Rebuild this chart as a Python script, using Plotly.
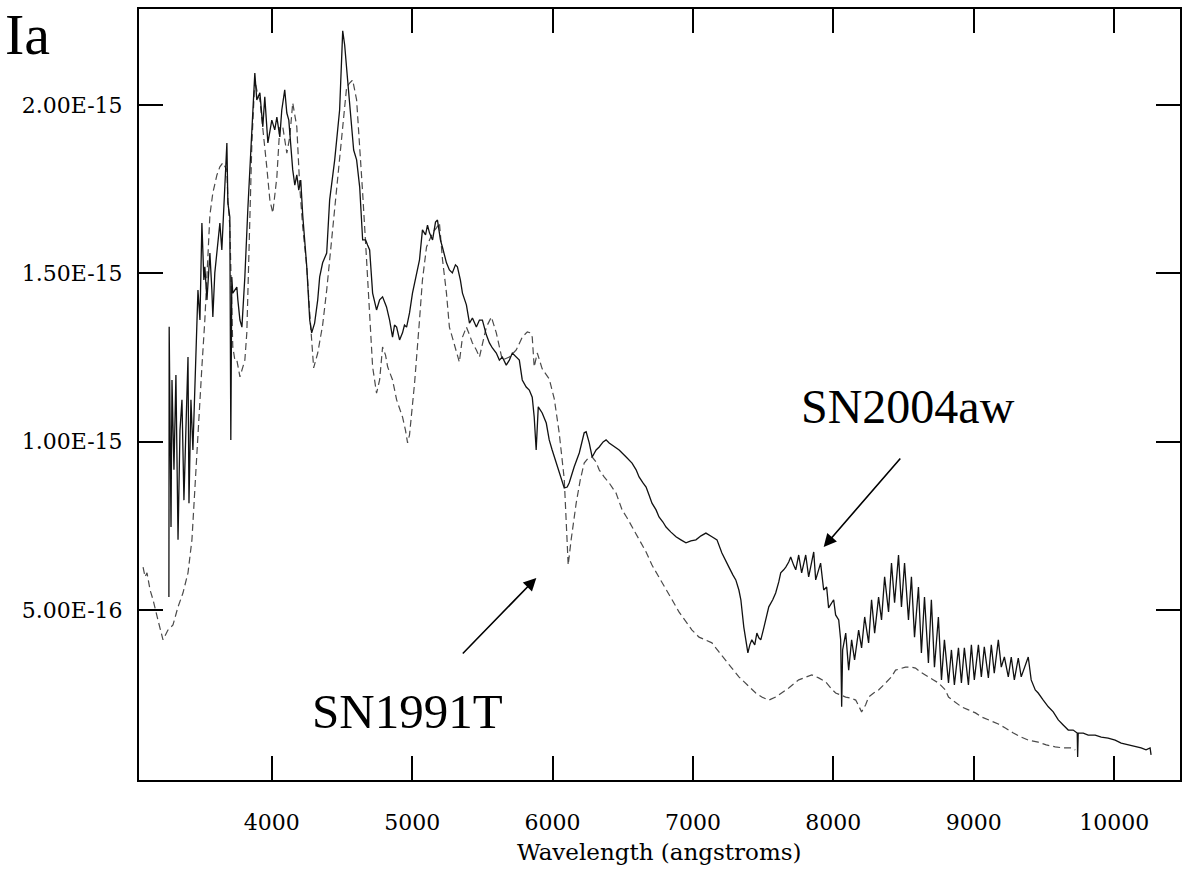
import numpy as np
import plotly.graph_objects as go

# SN2004aw spectrum: wavelength (angstroms) and flux (units of 1e-15)
sn2004aw_wave = [
    3267, 3269, 3282, 3289, 3303, 3317, 3332, 3346, 3360, 3374, 3388, 3403, 3410, 3424,
    3438, 3452, 3466, 3474, 3488, 3502, 3516, 3523, 3538, 3559, 3573, 3580, 3594, 3616,
    3630, 3644, 3665, 3680, 3687, 3701, 3708, 3715, 3722, 3751, 3758, 3773, 3787, 3808,
    3829, 3858, 3879, 3893, 3915, 3936, 3950, 3972, 4000, 4021, 4036, 4057, 4071, 4092,
    4107, 4121, 4135, 4149, 4164, 4178, 4192, 4206, 4220, 4235, 4249, 4270, 4284, 4305,
    4327, 4341, 4362, 4391, 4412, 4448, 4483, 4505, 4519, 4540, 4562, 4583, 4604, 4626,
    4647, 4668, 4682, 4697, 4718, 4746, 4768, 4789, 4817, 4839, 4860, 4874, 4889, 4910,
    4931, 4945, 4960, 4981, 5002, 5031, 5052, 5073, 5095, 5109, 5123, 5145, 5166, 5180,
    5201, 5215, 5244, 5265, 5286, 5308, 5322, 5343, 5358, 5386, 5408, 5429, 5457, 5479,
    5500, 5528, 5550, 5571, 5599, 5621, 5642, 5670, 5692, 5713, 5741, 5763, 5784, 5812,
    5834, 5855, 5869, 5883, 5898, 5926, 5955, 5976, 5997, 6026, 6061, 6083, 6104, 6118,
    6154, 6190, 6225, 6239, 6261, 6282, 6310, 6332, 6360, 6381, 6403, 6424, 6452, 6474,
    6524, 6566, 6595, 6616, 6644, 6666, 6687, 6708, 6737, 6758, 6786, 6808, 6843, 6879,
    6914, 6950, 6985, 7021, 7057, 7092, 7135, 7171, 7206, 7234, 7256, 7284, 7305, 7327,
    7341, 7362, 7391, 7405, 7419, 7440, 7455, 7469, 7483, 7504, 7518, 7540, 7568, 7589,
    7611, 7625, 7646, 7661, 7682, 7696, 7717, 7732, 7753, 7774, 7803, 7824, 7860, 7874,
    7909, 7931, 7952, 7966, 8002, 8016, 8038, 8052, 8059, 8066, 8088, 8109, 8130, 8151,
    8180, 8201, 8223, 8251, 8272, 8294, 8322, 8343, 8365, 8393, 8414, 8436, 8464, 8485,
    8507, 8535, 8556, 8578, 8606, 8627, 8649, 8677, 8698, 8720, 8748, 8770, 8791, 8820,
    8841, 8862, 8891, 8912, 8933, 8962, 8983, 9004, 9033, 9054, 9075, 9104, 9125, 9146,
    9175, 9196, 9218, 9246, 9267, 9289, 9317, 9338, 9388, 9409, 9438, 9459, 9495, 9531,
    9566, 9602, 9637, 9673, 9708, 9737, 9740, 9744, 9780, 9815, 9865, 9908, 9957, 10007,
    10050, 10099, 10149, 10192, 10227, 10256, 10263,
]
sn2004aw_flux = [
    0.538, 1.341, 0.746, 1.183, 0.916, 1.198, 0.708, 1.034, 1.124, 0.826, 1.034, 1.251, 0.817, 1.124,
    0.975, 1.183, 1.332, 1.450, 1.361, 1.649, 1.480, 1.519, 1.421, 1.560, 1.450, 1.370, 1.501, 1.599,
    1.649, 1.569, 1.739, 1.887, 1.709, 1.667, 1.005, 1.489, 1.441, 1.459, 1.421, 1.361, 1.340, 1.489,
    1.688, 1.935, 2.095, 2.015, 2.036, 1.935, 2.024, 1.887, 1.955, 1.926, 1.964, 1.905, 1.985, 2.045,
    1.976, 1.955, 1.866, 1.807, 1.762, 1.792, 1.747, 1.777, 1.673, 1.599, 1.519, 1.361, 1.323, 1.352,
    1.421, 1.489, 1.531, 1.560, 1.718, 1.837, 1.985, 2.220, 2.178, 2.074, 1.955, 1.866, 1.837, 1.756,
    1.599, 1.599, 1.584, 1.569, 1.441, 1.391, 1.421, 1.430, 1.400, 1.361, 1.310, 1.346, 1.340, 1.302,
    1.323, 1.346, 1.340, 1.382, 1.441, 1.495, 1.540, 1.629, 1.614, 1.643, 1.620, 1.599, 1.652, 1.658,
    1.599, 1.578, 1.531, 1.510, 1.501, 1.525, 1.519, 1.480, 1.441, 1.406, 1.352, 1.367, 1.340, 1.361,
    1.361, 1.317, 1.293, 1.278, 1.263, 1.242, 1.251, 1.227, 1.242, 1.263, 1.251, 1.242, 1.183, 1.162,
    1.153, 1.132, 1.073, 0.975, 1.103, 1.085, 1.055, 1.005, 0.975, 0.936, 0.886, 0.862, 0.865, 0.877,
    0.925, 0.966, 1.026, 1.029, 0.996, 0.954, 0.975, 0.984, 0.999, 1.005, 0.996, 0.990, 0.981, 0.975,
    0.954, 0.936, 0.916, 0.895, 0.877, 0.865, 0.841, 0.817, 0.797, 0.776, 0.761, 0.746, 0.731, 0.717,
    0.708, 0.699, 0.705, 0.708, 0.720, 0.728, 0.717, 0.708, 0.669, 0.648, 0.627, 0.604, 0.589, 0.559,
    0.530, 0.449, 0.372, 0.396, 0.411, 0.396, 0.431, 0.417, 0.411, 0.446, 0.470, 0.509, 0.530, 0.550,
    0.583, 0.610, 0.619, 0.627, 0.642, 0.657, 0.633, 0.619, 0.663, 0.610, 0.663, 0.598, 0.672, 0.589,
    0.639, 0.559, 0.568, 0.506, 0.530, 0.485, 0.470, 0.411, 0.212, 0.381, 0.431, 0.321, 0.411, 0.351,
    0.440, 0.387, 0.479, 0.402, 0.530, 0.431, 0.538, 0.470, 0.598, 0.494, 0.639, 0.521, 0.663, 0.509,
    0.639, 0.470, 0.598, 0.419, 0.568, 0.372, 0.538, 0.342, 0.530, 0.330, 0.479, 0.292, 0.411, 0.283,
    0.381, 0.277, 0.387, 0.283, 0.387, 0.277, 0.396, 0.292, 0.396, 0.301, 0.390, 0.298, 0.396, 0.312,
    0.411, 0.330, 0.360, 0.301, 0.360, 0.292, 0.357, 0.301, 0.360, 0.292, 0.262, 0.253, 0.232, 0.212,
    0.197, 0.173, 0.158, 0.143, 0.143, 0.134, 0.063, 0.134, 0.134, 0.128, 0.128, 0.122, 0.119, 0.113,
    0.104, 0.099, 0.096, 0.090, 0.084, 0.090, 0.069,
]

# SN1991T spectrum: wavelength (angstroms) and flux (units of 1e-15)
sn1991t_wave = [
    3083, 3097, 3111, 3133, 3154, 3168, 3189, 3225, 3260, 3296, 3332, 3367, 3403, 3431,
    3452, 3474, 3502, 3523, 3538, 3559, 3580, 3609, 3630, 3651, 3680, 3687, 3701, 3715,
    3722, 3737, 3751, 3773, 3794, 3808, 3822, 3829, 3844, 3858, 3879, 3900, 3915, 3936,
    3964, 3986, 4007, 4036, 4057, 4078, 4107, 4128, 4149, 4178, 4199, 4220, 4249, 4270,
    4284, 4298, 4327, 4341, 4362, 4391, 4412, 4462, 4483, 4505, 4533, 4554, 4576, 4604,
    4626, 4647, 4675, 4697, 4718, 4746, 4768, 4789, 4810, 4825, 4860, 4889, 4910, 4931,
    4952, 4967, 4981, 4995, 5017, 5052, 5073, 5102, 5145, 5173, 5194, 5216, 5244, 5265,
    5315, 5336, 5358, 5386, 5408, 5429, 5457, 5479, 5507, 5528, 5564, 5599, 5642, 5692,
    5741, 5784, 5820, 5841, 5855, 5869, 5891, 5926, 5976, 6012, 6047, 6083, 6104, 6111,
    6132, 6168, 6197, 6225, 6253, 6282, 6310, 6332, 6367, 6403, 6452, 6495, 6531, 6566,
    6616, 6666, 6708, 6758, 6808, 6851, 6900, 6950, 6993, 7043, 7092, 7135, 7185, 7234,
    7277, 7327, 7384, 7447, 7490, 7540, 7589, 7632, 7682, 7753, 7803, 7846, 7895, 7945,
    7981, 8016, 8052, 8088, 8123, 8159, 8180, 8201, 8230, 8251, 8287, 8322, 8372, 8414,
    8443, 8485, 8514, 8556, 8585, 8621, 8656, 8677, 8713, 8748, 8798, 8820, 8869, 8912,
    8962, 9012, 9054, 9104, 9175, 9225, 9282, 9338, 9388, 9459, 9516, 9580, 9637, 9694,
    9723,
]
sn1991t_flux = [
    0.627, 0.598, 0.610, 0.559, 0.530, 0.509, 0.470, 0.411, 0.440, 0.455, 0.509, 0.550, 0.610, 0.708,
    0.865, 1.043, 1.222, 1.361, 1.480, 1.673, 1.739, 1.792, 1.816, 1.828, 1.807, 1.718, 1.638, 1.441,
    1.281, 1.242, 1.242, 1.192, 1.227, 1.242, 1.323, 1.450, 1.718, 1.887, 2.074, 2.030, 2.015, 1.935,
    1.816, 1.718, 1.679, 1.786, 1.935, 1.935, 1.857, 1.905, 2.006, 1.935, 1.756, 1.638, 1.519, 1.382,
    1.287, 1.219, 1.263, 1.302, 1.346, 1.450, 1.540, 1.739, 1.837, 1.935, 2.053, 2.065, 2.074, 2.015,
    1.887, 1.739, 1.540, 1.361, 1.222, 1.144, 1.183, 1.281, 1.257, 1.222, 1.183, 1.124, 1.100, 1.073,
    1.034, 0.996, 1.020, 1.073, 1.174, 1.361, 1.480, 1.578, 1.620, 1.635, 1.649, 1.540, 1.441, 1.340,
    1.263, 1.236, 1.310, 1.340, 1.317, 1.293, 1.272, 1.251, 1.302, 1.340, 1.370, 1.323, 1.242, 1.251,
    1.272, 1.310, 1.326, 1.323, 1.310, 1.222, 1.263, 1.216, 1.186, 1.127, 1.026, 0.889, 0.699, 0.633,
    0.708, 0.817, 0.886, 0.936, 0.951, 0.954, 0.939, 0.916, 0.895, 0.877, 0.847, 0.797, 0.773, 0.746,
    0.708, 0.672, 0.633, 0.598, 0.559, 0.530, 0.494, 0.464, 0.440, 0.419, 0.411, 0.402, 0.375, 0.351,
    0.327, 0.301, 0.277, 0.253, 0.241, 0.232, 0.241, 0.253, 0.268, 0.292, 0.301, 0.307, 0.298, 0.286,
    0.268, 0.253, 0.247, 0.241, 0.238, 0.232, 0.215, 0.197, 0.218, 0.241, 0.253, 0.262, 0.283, 0.301,
    0.321, 0.327, 0.330, 0.330, 0.327, 0.315, 0.307, 0.301, 0.292, 0.283, 0.262, 0.241, 0.226, 0.212,
    0.203, 0.194, 0.182, 0.173, 0.161, 0.149, 0.134, 0.122, 0.113, 0.107, 0.099, 0.093, 0.090, 0.090,
    0.084,
]

FLUX_UNIT = 1e-15

x_ticks = [4000, 5000, 6000, 7000, 8000, 9000, 10000]
y_ticks = [5e-16, 1e-15, 1.5e-15, 2e-15]
y_tick_labels = ["5.00E-16", "1.00E-15", "1.50E-15", "2.00E-15"]

x_range = [3054, 10469]
y_range = [-0.0054e-15, 2.285e-15]

fig = go.Figure()

fig.add_trace(go.Scatter(
    x=sn1991t_wave, y=np.array(sn1991t_flux) * FLUX_UNIT,
    mode="lines", name="SN1991T",
    line=dict(color="#4a4a4a", width=1.2, dash="7px,4px"),
))
fig.add_trace(go.Scatter(
    x=sn2004aw_wave, y=np.array(sn2004aw_flux) * FLUX_UNIT,
    mode="lines", name="SN2004aw",
    line=dict(color="#111111", width=1.3),
))

axis_font = dict(family="DejaVu Serif", size=22, color="black")

fig.update_xaxes(
    range=x_range, tickvals=x_ticks, ticktext=[str(v) for v in x_ticks],
    showline=True, linecolor="black", linewidth=2, mirror="allticks",
    ticks="inside", ticklen=24, tickwidth=2, tickcolor="black",
    showgrid=False, zeroline=False, tickfont=axis_font, ticklabelstandoff=22,
)
fig.update_yaxes(
    range=y_range, tickvals=y_ticks, ticktext=y_tick_labels,
    showline=True, linecolor="black", linewidth=2, mirror="allticks",
    ticks="inside", ticklen=24, tickwidth=2, tickcolor="black",
    showgrid=False, zeroline=False, tickfont=axis_font, ticklabelstandoff=10,
)

label_font = dict(family="Liberation Serif", color="black")

fig.add_annotation(
    text="Wavelength (angstroms)", xref="paper", yref="paper",
    x=0.5, y=(780 - 867) / 771, xanchor="center", yanchor="bottom", showarrow=False,
    font=dict(family="DejaVu Serif", size=23, color="black"),
)
fig.add_annotation(
    text="Ia", xref="paper", yref="paper", x=-0.131, y=780 / 771,
    xanchor="left", yanchor="top", showarrow=False,
    font=dict(size=58, **label_font),
)
fig.add_annotation(
    text="SN2004aw", xref="paper", yref="paper", x=(800 - 139) / 1043, y=(780 - 407) / 771,
    xanchor="left", yanchor="middle", showarrow=False,
    font=dict(size=48, **label_font),
)
fig.add_annotation(
    text="SN1991T", xref="paper", yref="paper", x=(310 - 139) / 1043, y=(780 - 711) / 771,
    xanchor="left", yanchor="middle", showarrow=False,
    font=dict(size=49, **label_font),
)

# Pointer arrows for the two spectra
fig.add_annotation(
    x=7931, y=0.687e-15, ax=8486, ay=0.954e-15, xref="x", yref="y",
    axref="x", ayref="y", text="", showarrow=True,
    arrowhead=2, arrowsize=1.6, arrowwidth=1.6, arrowcolor="black", standoff=0,
)
fig.add_annotation(
    x=5884, y=0.595e-15, ax=5350, ay=0.366e-15, xref="x", yref="y",
    axref="x", ayref="y", text="", showarrow=True,
    arrowhead=2, arrowsize=1.6, arrowwidth=1.6, arrowcolor="black", standoff=0,
)

fig.update_layout(
    width=1184, height=869,
    margin=dict(l=139, r=2, t=9, b=89),
    plot_bgcolor="white", paper_bgcolor="white",
    showlegend=False,
)

fig.write_html("out.html")
